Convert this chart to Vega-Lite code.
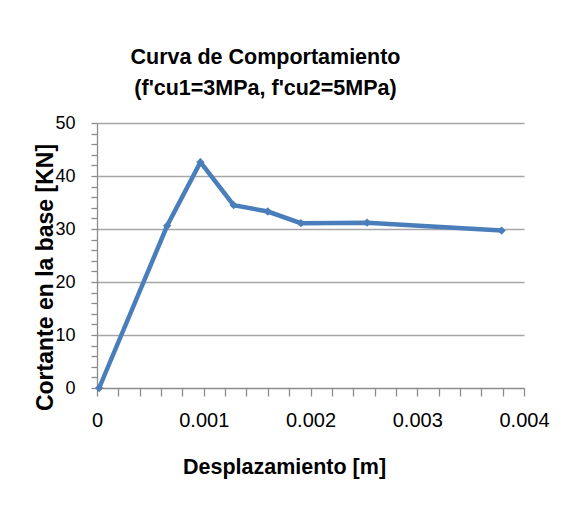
{
  "$schema": "https://vega.github.io/schema/vega-lite/v6.json",
  "autosize": {"type": "none"},
  "width": 427,
  "height": 265,
  "padding": {"left": 97, "top": 123, "right": 37, "bottom": 129},
  "background": "white",
  "title": {
    "text": ["Curva de Comportamiento", "(f'cu1=3MPa, f'cu2=5MPa)"],
    "font": "Liberation Sans",
    "fontSize": 21.5,
    "fontWeight": "bold",
    "color": "#000000",
    "lineHeight": 31,
    "anchor": "middle",
    "dx": -45,
    "offset": 15
  },
  "config": {
    "view": {"stroke": null},
    "axis": {
      "labelFont": "Liberation Sans",
      "titleFont": "Liberation Sans",
      "labelColor": "#000000",
      "titleColor": "#000000",
      "domainColor": "#8c8c8c",
      "tickColor": "#8c8c8c",
      "gridColor": "#a6a6a6",
      "domainWidth": 1.3,
      "tickWidth": 1.3,
      "gridWidth": 1.3
    }
  },
  "data": {
    "values": [
      {"d": 0.00002, "v": 0},
      {"d": 0.000657, "v": 30.6},
      {"d": 0.000969, "v": 42.6},
      {"d": 0.00128, "v": 34.5},
      {"d": 0.0016, "v": 33.3},
      {"d": 0.00191, "v": 31.1},
      {"d": 0.00253, "v": 31.2},
      {"d": 0.00379, "v": 29.7}
    ]
  },
  "encoding": {
    "x": {
      "field": "d",
      "type": "quantitative",
      "scale": {"domain": [0, 0.004], "nice": false, "zero": false},
      "axis": {
        "title": "Desplazamiento [m]",
        "titleFontSize": 21.5,
        "titleFontWeight": "bold",
        "titleX": 187,
        "titleY": 79,
        "titleBaseline": "middle",
        "values": [0, 0.0002, 0.0004, 0.0006, 0.0008, 0.001, 0.0012, 0.0014, 0.0016, 0.0018, 0.002, 0.0022, 0.0024, 0.0026, 0.0028, 0.003, 0.0032, 0.0034, 0.0036, 0.0038, 0.004],
        "labelExpr": "round(datum.value*10000) % 10 === 0 ? format(datum.value, '.3~f') : ''",
        "labelFontSize": 20,
        "labelPadding": 14,
        "tickSize": 8,
        "grid": false,
        "labelFlush": false,
        "labelOverlap": false
      }
    },
    "y": {
      "field": "v",
      "type": "quantitative",
      "scale": {"domain": [0, 50], "nice": false},
      "axis": {
        "title": "Cortante en la base [KN]",
        "titleFontSize": 23,
        "titleFontWeight": "bold",
        "titleX": -52,
        "titleY": 154,
        "titleBaseline": "middle",
        "values": [0, 2, 4, 6, 8, 10, 12, 14, 16, 18, 20, 22, 24, 26, 28, 30, 32, 34, 36, 38, 40, 42, 44, 46, 48, 50],
        "labelExpr": "datum.value % 10 === 0 ? datum.label : ''",
        "labelFontSize": 18,
        "labelPadding": 16,
        "tickSize": 6,
        "grid": true,
        "gridOpacity": {"condition": {"test": "datum.value % 10 === 0 && datum.value > 0", "value": 1}, "value": 0},
        "labelOverlap": false
      }
    }
  },
  "layer": [
    {"mark": {"type": "line", "color": "#4a7ebb", "strokeWidth": 4.5}},
    {"mark": {"type": "point", "shape": "diamond", "filled": true, "color": "#4a7ebb", "size": 70, "opacity": 1}}
  ]
}
